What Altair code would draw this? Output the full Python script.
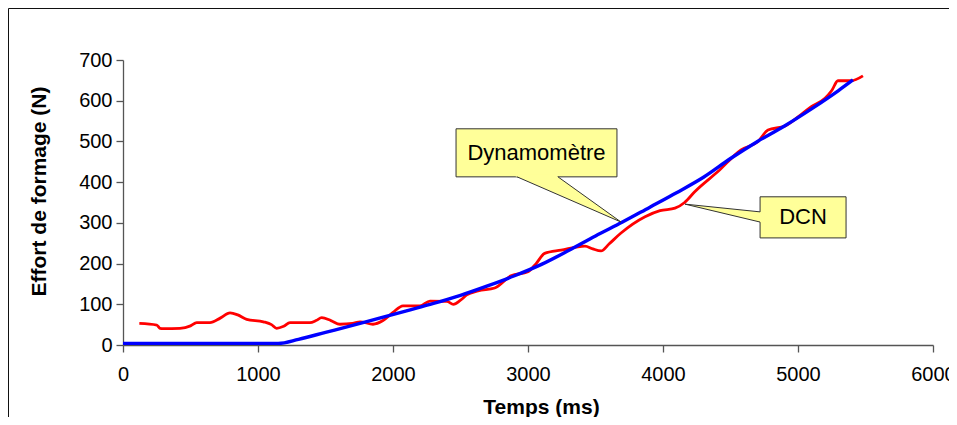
import altair as alt
import pandas as pd

# ---- data ----
dyn_t = [0, 300, 600, 900, 1150, 1300, 1500, 1700, 1900, 2100, 2300, 2500, 2700,
         2900, 3100, 3300, 3500, 3700, 3900, 4100, 4300, 4500, 4700, 4900, 5100,
         5300, 5407]
dyn_f = [4, 4, 4, 4, 4, 14, 31, 48, 66, 84, 102, 122, 145,
         170, 198, 232, 268, 302, 338, 374, 412, 458, 500, 538, 580,
         625, 651]

dcn_t = [121, 250, 274, 300, 422, 500, 546, 644, 720, 793, 850, 916, 1040, 1100,
         1138, 1190, 1237, 1385, 1430, 1472, 1540, 1607, 1700, 1756, 1852, 1926,
         2000, 2074, 2200, 2274, 2400, 2447, 2500, 2546, 2630, 2753, 2874, 3000,
         3060, 3123, 3245, 3422, 3480, 3541, 3600, 3689, 3867, 3978, 4089, 4160,
         4237, 4407, 4578, 4704, 4778, 4904, 5000, 5096, 5200, 5250, 5296, 5393,
         5481]
dcn_f = [53, 49, 41, 40, 41, 47, 55, 55, 66, 79, 74, 63, 57, 50,
         41, 46, 55, 55, 60, 67, 60, 51, 53, 57, 51, 60,
         80, 96, 96, 108, 107, 100, 110, 123, 133, 140, 170, 180,
         200, 225, 233, 243, 236, 231, 248, 275, 315, 330, 336, 350,
         377, 426, 479, 500, 528, 538, 560, 585, 606, 625, 649, 649,
         661]

x_ticks = [0, 1000, 2000, 3000, 4000, 5000, 6000]
y_ticks = [0, 100, 200, 300, 400, 500, 600, 700]

# callouts (data units)
callout_text = ["Dynamomètre", "DCN"]
box_t0 = [2467, 4719]
box_t1 = [3659, 5356]
box_f0 = [413, 263]
box_f1 = [531, 364]
tip_t = [3689, 4163]
tip_f = [302, 346]
# pointer bases: Dynamomètre on bottom edge, DCN on left edge
base_a_t = [2919, 4719]
base_a_f = [413, 327]
base_b_t = [3222, 4719]
base_b_f = [413, 302]

FONT = "Liberation Sans"
YELLOW = "#FFFF99"
EDGE = "#333333"
AXC = "#555555"
XT = "Temps (ms)"
YT = "Effort de formage (N)"

xs = alt.Scale(domain=[0, 6000], nice=False)
ys = alt.Scale(domain=[0, 700], nice=False)
xax = alt.Axis(values=x_ticks, format="d", titleX=418, titleY=68,
               titleBaseline="alphabetic", labelPadding=12, labelFlush=False)
yax = alt.Axis(values=y_ticks, format="d", titleX=-78, titleY=131,
               titleBaseline="alphabetic", labelPadding=4, labelFlush=False)


def X(field, **kw):
    return alt.X(field, scale=xs, axis=xax, title=XT, **kw)


def Y(field, **kw):
    return alt.Y(field, scale=ys, axis=yax, title=YT, **kw)


dyn = pd.DataFrame({"t": dyn_t, "f": dyn_f})
dcn = pd.DataFrame({"t": dcn_t, "f": dcn_f})

boxes = pd.DataFrame({
    "label": callout_text,
    "t0": box_t0, "t1": box_t1, "f0": box_f0, "f1": box_f1,
    "tc": [(a + b) / 2 for a, b in zip(box_t0, box_t1)],
    "fc": [(a + b) / 2 for a, b in zip(box_f0, box_f1)],
})

edges = pd.DataFrame({
    "t": base_a_t + base_b_t,
    "f": base_a_f + base_b_f,
    "tt": tip_t + tip_t,
    "ft": tip_f + tip_f,
})

ext = 5
fa = base_a_f[0] + ext
la = tip_t[0] + (base_a_t[0] - tip_t[0]) * (fa - tip_f[0]) / (base_a_f[0] - tip_f[0])
lb = tip_t[0] + (base_b_t[0] - tip_t[0]) * (fa - tip_f[0]) / (base_b_f[0] - tip_f[0])
tri1 = pd.DataFrame({"f": [tip_f[0], fa], "ta": [tip_t[0], la], "tb": [tip_t[0], lb]})

ta = base_a_t[1] + 30
fa2 = tip_f[1] + (base_a_f[1] - tip_f[1]) * (ta - tip_t[1]) / (base_a_t[1] - tip_t[1])
fb2 = tip_f[1] + (base_b_f[1] - tip_f[1]) * (ta - tip_t[1]) / (base_b_t[1] - tip_t[1])
tri2 = pd.DataFrame({"t": [tip_t[1], ta], "fa": [tip_f[1], fa2], "fb": [tip_f[1], fb2]})

red = alt.Chart(dcn).mark_line(color="#FF0000", strokeWidth=2.8,
                               interpolate="monotone").encode(
    x=X("t:Q"), y=Y("f:Q"))
blue = alt.Chart(dyn).mark_line(color="#0000FF", strokeWidth=3.4,
                                interpolate="monotone").encode(
    x=X("t:Q"), y=Y("f:Q"))

box = alt.Chart(boxes).mark_rect(fill=YELLOW, stroke=EDGE, strokeWidth=1).encode(
    x=X("t0:Q"), x2="t1:Q", y=Y("f0:Q"), y2="f1:Q")
t1 = alt.Chart(tri1).mark_area(orient="horizontal", fill=YELLOW, strokeWidth=0).encode(
    y=Y("f:Q"), x=X("ta:Q", stack=False), x2="tb:Q")
t2 = alt.Chart(tri2).mark_area(orient="vertical", fill=YELLOW, strokeWidth=0).encode(
    x=X("t:Q"), y=Y("fa:Q", stack=False), y2="fb:Q")
side = alt.Chart(edges).mark_rule(color=EDGE, strokeWidth=1).encode(
    x=X("t:Q"), x2="tt:Q", y=Y("f:Q"), y2="ft:Q")
txt = alt.Chart(boxes).mark_text(font=FONT, fontSize=22, color="black",
                                 align="center", baseline="middle").encode(
    x=X("tc:Q"), y=Y("fc:Q"), text="label:N")

frame = alt.Chart(pd.DataFrame({"k": [0]})).mark_rect(
    fillOpacity=0, stroke="#111111", strokeWidth=1
).encode(x=alt.value(-114.5), x2=alt.value(900), y=alt.value(-51.5), y2=alt.value(420))

chart = alt.layer(red, blue, box, t1, t2, side, txt, frame).properties(
    width=810, height=285,
    padding={"left": 115, "top": 52, "right": 16, "bottom": 72},
    autosize=alt.AutoSizeParams(type="none"),
).configure_view(strokeWidth=0).configure_axis(
    grid=False, domainColor=AXC, tickColor=AXC, tickSize=7,
    labelFont=FONT, labelFontSize=20, labelColor="black",
    titleFont=FONT, titleFontSize=21, titleFontWeight="bold", titleColor="black",
    domainWidth=1.3, tickWidth=1.3,
)

chart.save("out.html", embed_options={"renderer": "svg", "actions": False})
